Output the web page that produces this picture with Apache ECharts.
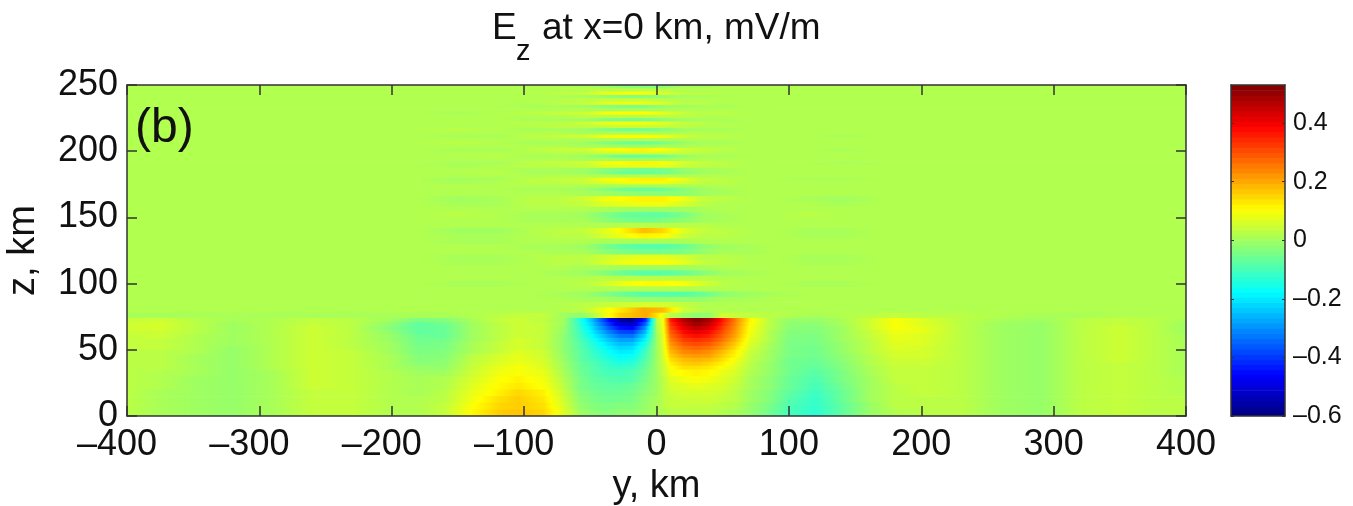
<!DOCTYPE html>
<html>
<head>
<meta charset="utf-8">
<title>Ez at x=0 km</title>
<script src="https://cdn.jsdelivr.net/npm/echarts@6/dist/echarts.min.js"></script>
<style>
html, body { margin: 0; padding: 0; background: #fff; }
#chart { width: 1353px; height: 506px; }
</style>
</head>
<body>
<div id="chart"></div>
<script>
// field values are in units of 0.01 mV/m
// above the ionosphere boundary: y nodes of each row, z edges of the rows
const upperY = [-400,-180,-150,-120,-95,-75,-55,-40,-25,-10,5,20,35,50,70,90,115,140,170,400];
const upperZ = [250,247.5,245,242.5,240,237.5,235,232.5,230,227.5,225,222.5,220,217.5,215,212.5,210,207.5,205,202.5,200,197.5,195,192.5,190,187.5,185,182.5,180,177.5,175,172.5,170,
  166,162,158,154,150,146,142,138,134,130,126,122,118,114,110,106,102,98,94,90,86,82,78];
const upperRows = [
  [2,2,2,2,2,2,2,0,-2,-3,-2,1,1,2,2,2,2,2,2,2],
  [2,2,2,2,2,2,2,3,3,3,3,2,2,2,2,2,2,2,2,2],
  [2,2,2,2,2,3,4,8,10,10,6,3,3,2,2,2,2,2,2,2],
  [2,2,2,2,2,2,1,-1,-3,-3,-1,1,1,2,2,2,2,2,2,2],
  [2,2,2,2,2,2,3,4,4,4,3,2,2,2,2,2,2,2,2,2],
  [2,2,2,2,2,3,4,7,9,9,6,3,3,2,2,2,2,2,2,2],
  [2,2,2,2,1,1,0,-2,-4,-4,-1,0,1,1,2,2,2,2,2,2],
  [2,2,2,2,2,2,2,1,1,1,1,2,2,2,2,2,2,2,2,2],
  [2,2,1,2,3,4,5,9,11,11,8,4,3,3,2,2,2,2,2,2],
  [2,2,2,2,2,2,3,3,3,3,3,3,2,2,2,2,2,2,2,2],
  [2,2,2,2,1,1,0,-3,-5,-5,-2,0,1,1,2,2,2,2,2,2],
  [2,2,2,2,3,3,5,8,10,10,7,4,3,2,2,2,2,2,2,2],
  [2,2,2,2,2,3,3,4,5,5,4,3,2,2,2,2,2,2,2,2],
  [2,2,3,2,1,1,0,-3,-5,-5,-3,0,1,1,2,2,2,2,2,2],
  [2,2,2,2,2,2,1,1,1,1,1,2,2,2,2,2,2,2,2,2],
  [2,2,1,1,3,4,5,9,11,11,9,5,3,3,2,2,2,1,2,2],
  [2,2,2,2,2,2,2,2,2,2,2,2,2,2,2,2,2,2,2,2],
  [2,2,3,2,1,1,0,-3,-5,-6,-4,-1,1,1,2,2,2,2,2,2],
  [2,2,2,2,2,2,1,1,0,0,1,1,2,2,2,2,2,2,2,2],
  [2,2,1,1,3,4,5,9,11,12,10,6,4,3,2,2,2,1,2,2],
  [2,2,2,2,2,3,3,5,6,6,6,4,3,2,2,2,2,2,2,2],
  [2,2,2,3,1,1,0,-3,-6,-6,-5,-1,1,1,2,2,2,2,2,2],
  [2,2,2,2,2,2,1,1,0,0,0,1,2,2,2,2,2,2,2,2],
  [2,2,1,1,3,4,5,9,11,12,11,6,4,3,2,2,2,1,2,2],
  [2,2,1,2,3,3,4,7,8,8,8,5,3,3,2,2,2,2,2,2],
  [2,2,2,2,1,1,0,-2,-4,-5,-4,-1,1,1,2,2,2,2,2,2],
  [2,2,2,3,1,1,0,-3,-6,-6,-5,-2,0,1,2,2,2,2,2,2],
  [2,2,2,2,2,2,2,2,2,2,2,2,2,2,2,2,2,2,2,2],
  [2,2,0,1,3,4,5,9,11,12,12,8,4,3,2,2,1,1,2,2],
  [2,2,1,2,3,3,4,7,9,9,9,6,3,3,2,2,2,2,2,2],
  [2,2,2,2,2,2,2,1,1,1,1,1,2,2,2,2,2,2,2,2],
  [2,2,2,2,1,1,0,-3,-6,-7,-6,-3,0,1,2,2,2,2,2,2],
  [2,2,2,2,2,2,1,0,-1,-2,-2,-2,0,1,2,2,2,2,2,2],
  [2,2,0,1,3,3,5,9,11,12,12,9,4,3,2,2,1,0,2,2],
  [2,2,1,1,3,3,4,7,8,9,9,6,3,2,2,2,2,1,2,2],
  [2,2,2,2,2,2,2,1,0,0,0,0,1,2,2,2,2,2,2,2],
  [2,2,3,2,1,1,0,-3,-6,-7,-7,-4,0,1,2,2,3,2,2,2],
  [2,2,2,2,1,1,1,-2,-4,-5,-4,-2,0,1,2,2,2,2,2,2],
  [2,2,2,2,2,2,2,2,3,3,3,3,3,2,2,2,2,2,2,2],
  [2,2,0,0,2,3,4,7,12,18,15,7,4,3,2,2,1,1,2,2],
  [2,2,1,1,2,3,3,6,9,12,11,5,3,3,2,2,1,1,2,2],
  [2,2,1,1,2,2,2,1,1,1,1,1,2,2,2,2,2,2,2,2],
  [2,2,2,2,1,1,0,-4,-7,-8,-8,-6,-2,0,1,2,2,2,2,2],
  [2,2,2,2,2,1,1,-2,-4,-5,-5,-4,-1,1,1,2,2,2,2,2],
  [2,2,1,1,2,3,3,5,7,8,8,6,3,3,2,2,1,1,2,2],
  [2,2,1,1,2,3,3,6,9,10,10,8,4,3,2,2,1,1,2,2],
  [2,2,2,2,2,2,1,1,0,0,0,0,1,2,2,2,2,2,2,2],
  [2,2,2,2,2,1,0,-3,-6,-8,-8,-6,-3,0,1,2,2,2,2,2],
  [2,2,2,2,2,2,2,3,3,3,3,3,3,2,2,2,2,2,2,2],
  [2,2,1,1,2,2,3,5,9,11,11,10,6,3,2,2,1,1,2,2],
  [2,2,2,2,2,2,2,2,2,2,2,2,2,2,2,2,2,2,2,2],
  [2,2,2,2,2,1,0,-3,-6,-8,-8,-8,-6,-2,0,1,2,2,2,2],
  [2,2,2,2,2,2,1,1,0,-1,-1,-1,-1,1,1,2,2,2,2,2],
  [2,2,2,2,2,2,3,4,5,6,6,4,2,2,2,2,2,2,2,2],
  [2,2,2,2,2,2,3,9,14,20,18,5,2,2,2,2,2,2,2,2]
];
// below the boundary
const lowerY = [-400,-375,-350,-320,-290,-260,-230,-200,-180,-160,-140,-120,-105,-85,-70,-58,-48,-38,-28,-18,-8,0,5,10,20,30,40,50,60,70,85,100,120,140,160,180,200,230,260,290,320,350,375,400];
const lowerZ = [78,74,71,68,65,62,59,56,53,50,47,44,41,38,35,30,25,20,15,10,5,0];
const lowerRows = [
  [1,1,1,1,1,1,1,1,1,1,2,3,4,4,0,-2,2,9,16,18,20,14,8,3,0,-2,-1,6,4,4,3,2,1,2,3,4,3,3,2,1,1,2,2,2],
  [4,5,3,1,2,4,3,0,-4,-3,1,4,5,3,0,-14,-26,-42,-56,-58,-40,3,10,35,47,53,48,36,24,12,3,-1,-1,1,5,10,7,3,1,0,3,4,3,1],
  [5,6,3,0,2,4,3,-2,-7,-5,0,3,5,4,0,-13,-24,-38,-50,-52,-34,2,10,32,44,50,45,34,23,11,3,-2,-2,1,5,10,7,3,0,-1,3,4,3,0],
  [5,6,3,0,2,5,3,-3,-7,-6,0,3,5,4,-1,-12,-22,-34,-44,-46,-28,1,9,30,41,46,42,32,22,10,3,-2,-3,0,5,10,8,3,0,-1,3,5,3,0],
  [5,5,3,0,2,5,3,-2,-7,-6,0,3,5,4,-1,-11,-20,-30,-38,-39,-24,1,9,28,38,42,38,30,21,10,2,-3,-3,0,4,9,8,3,0,-1,3,5,3,0],
  [4,5,2,0,2,5,3,-1,-6,-6,0,3,5,4,-2,-10,-18,-26,-33,-33,-20,0,8,26,35,38,35,28,20,9,2,-3,-4,0,4,8,7,3,0,-1,3,5,3,1],
  [4,4,2,0,2,5,3,-1,-5,-5,0,3,6,4,-2,-9,-16,-23,-28,-28,-17,0,8,24,32,34,32,26,18,8,2,-4,-4,0,3,8,7,3,0,-1,3,5,3,1],
  [4,4,2,0,2,5,3,0,-5,-4,1,4,6,4,-2,-8,-14,-20,-25,-24,-14,0,7,22,29,31,29,23,16,7,1,-4,-4,-1,3,7,7,3,0,-1,3,5,3,1],
  [4,4,2,-1,2,5,3,0,-4,-4,1,4,6,4,-2,-8,-13,-18,-22,-21,-12,0,7,20,26,28,26,21,14,6,1,-4,-5,-1,3,7,6,3,0,-1,3,5,3,1],
  [3,3,2,-1,2,5,4,0,-4,-3,1,4,7,5,-2,-7,-12,-16,-20,-19,-10,0,6,18,24,25,23,18,12,5,0,-4,-5,-1,3,6,6,3,0,-1,3,5,3,1],
  [3,3,1,-1,2,5,4,1,-3,-3,3,6,8,5,-1,-7,-11,-15,-18,-17,-9,0,6,16,21,22,21,16,11,4,0,-4,-5,-2,2,6,6,3,0,-1,3,5,3,1],
  [3,3,1,-1,2,5,4,1,-3,-2,3,6,8,6,-1,-7,-10,-13,-16,-15,-8,0,5,14,18,19,18,14,9,4,0,-5,-6,-2,2,5,5,3,0,-1,3,5,3,1],
  [3,3,1,-1,2,5,4,1,-2,-2,4,7,9,6,0,-6,-9,-12,-14,-13,-7,0,5,12,16,17,15,12,8,3,-1,-5,-6,-3,2,5,5,3,0,-1,3,4,3,1],
  [3,3,1,-1,2,5,4,1,-1,-1,4,8,10,7,0,-6,-8,-11,-12,-11,-6,0,4,10,14,14,13,10,7,3,-1,-5,-7,-3,1,4,4,3,0,-1,3,4,3,1],
  [3,2,1,-1,1,5,4,2,0,0,5,9,10,8,1,-5,-8,-10,-10,-9,-5,0,4,9,11,12,11,8,6,2,-1,-5,-8,-4,1,4,4,3,0,-1,3,4,3,1],
  [3,2,0,-1,1,5,4,2,1,2,6,10,12,9,2,-4,-7,-8,-9,-8,-4,0,3,7,9,10,9,7,5,1,-2,-6,-9,-4,0,4,4,3,0,-1,3,4,3,2],
  [3,2,0,-1,1,5,4,2,1,2,7,11,13,10,3,-4,-6,-7,-7,-6,-3,0,3,6,7,8,7,6,4,1,-2,-6,-10,-5,0,3,4,3,0,-1,3,4,3,2],
  [3,1,0,-1,1,4,4,2,1,3,8,12,15,12,4,-3,-5,-6,-6,-5,-2,0,3,5,6,6,6,5,3,0,-3,-7,-11,-6,0,3,4,3,0,-1,3,4,3,2],
  [3,1,0,-1,1,4,4,2,2,3,9,14,16,13,5,-2,-4,-5,-5,-4,-1,1,3,4,5,5,5,4,3,0,-3,-8,-12,-6,0,3,3,3,0,-1,3,4,3,3],
  [3,1,0,-1,1,4,4,2,2,4,10,15,16,14,6,-1,-3,-4,-3,-3,-1,1,3,4,4,4,4,3,2,-1,-4,-9,-12,-7,-1,3,3,3,0,-1,3,4,3,3],
  [3,1,0,-1,1,4,4,2,2,4,11,16,17,15,7,0,-2,-3,-2,-2,0,1,2,3,3,3,3,2,1,-1,-5,-10,-13,-7,-1,2,3,3,0,-1,3,4,3,3]
];
const yTicks = { min: -400, max: 400, interval: 100 };
const zTicks = { min: 0, max: 250, interval: 50 };
const barRange = [-0.6, 0.53];
const barTickStep = 0.2;
const barLevels = 64;

const FONT = '"Liberation Sans", Arial, sans-serif';
const INK = '#111';
const LINE = '#333';

// MATLAB jet
function jet(v) {
  const f = Math.min(1, Math.max(0, (v - barRange[0]) / (barRange[1] - barRange[0])));
  const c = x => Math.round(255 * Math.min(1, Math.max(0, x)));
  const r = c(Math.min(4 * f - 1.5, -4 * f + 4.5));
  const g = c(Math.min(4 * f - 0.5, -4 * f + 3.5));
  const b = c(Math.min(4 * f + 0.5, -4 * f + 2.5));
  return 'rgb(' + r + ',' + g + ',' + b + ')';
}

// one strip per neighbouring node pair: [y0, y1, zTop, zBottom, v0, v1]
function strips(ys, zs, rows) {
  const out = [];
  rows.forEach((row, r) => {
    for (let c = 0; c < ys.length - 1; c++) {
      out.push([ys[c], ys[c + 1], zs[r], zs[r + 1], row[c] / 100, row[c + 1] / 100]);
    }
  });
  return out;
}
const fieldData = strips(upperY, upperZ, upperRows).concat(strips(lowerY, lowerZ, lowerRows));

function renderStrip(params, api) {
  const a = api.coord([api.value(0), api.value(2)]);
  const b = api.coord([api.value(1), api.value(3)]);
  const v0 = api.value(4), v1 = api.value(5);
  const stops = [];
  for (let i = 0; i <= 6; i++) {
    stops.push({ offset: i / 6, color: jet(v0 + (v1 - v0) * i / 6) });
  }
  return {
    type: 'rect',
    shape: { x: a[0], y: a[1], width: b[0] - a[0] + 0.7, height: b[1] - a[1] + 0.7 },
    style: { fill: new echarts.graphic.LinearGradient(0, 0, 1, 0, stops) }
  };
}

// colour bar, one band for each level of the map
const barData = [];
for (let i = 0; i < barLevels; i++) {
  const step = (barRange[1] - barRange[0]) / barLevels;
  barData.push([barRange[0] + i * step, barRange[0] + (i + 1) * step]);
}
function renderBand(params, api) {
  const lo = api.value(0), hi = api.value(1);
  const a = api.coord([0, hi]);
  const b = api.coord([1, lo]);
  return {
    type: 'rect',
    shape: { x: a[0], y: a[1], width: b[0] - a[0], height: b[1] - a[1] + 0.7 },
    style: { fill: jet((lo + hi) / 2) }
  };
}

const titleFont = size => ({ fontFamily: FONT, fontSize: size, fontWeight: 'normal', color: INK });
const boxLine = { show: true, onZero: false, lineStyle: { color: LINE, width: 1.5 } };
const bigTick = { show: true, inside: true, length: 10, lineStyle: { color: LINE, width: 1.5 } };
const smallTick = { show: true, inside: true, length: 3, lineStyle: { color: LINE, width: 1 } };
const minusDash = v => String(+(+v).toFixed(1)).replace('-', '\u2013');
// the minus sign hangs off to the left of the centred digits
const hangMinus = v => (v < 0 ? '{neg|' + minusDash(v) + '}' : '{pos|' + v + '}');

const option = {
  animation: false,
  backgroundColor: '#fff',
  title: [
    { text: 'E', left: 487, top: 5, textStyle: titleFont(37) },
    { text: 'z', left: 511, top: 32, textStyle: titleFont(29) },
    { text: 'at x=0 km, mV/m', left: 537, top: 5, textStyle: titleFont(37) },
    { text: '(b)', left: 130, top: 100, z: 10, textStyle: titleFont(48) }
  ],
  grid: [
    { left: 127, top: 85, width: 1059, height: 331, outerBoundsMode: 'none' },
    { left: 1231, top: 85, width: 54, height: 331, outerBoundsMode: 'none' }
  ],
  xAxis: [
    {
      type: 'value', gridIndex: 0, position: 'bottom', z: 5, ...yTicks,
      name: 'y, km', nameLocation: 'middle', nameGap: 52,
      nameTextStyle: { fontFamily: FONT, fontSize: 38, color: INK },
      axisLine: boxLine, axisTick: bigTick, splitLine: { show: false },
      axisLabel: {
        margin: 11, formatter: hangMinus, hideOverlap: false,
        rich: {
          neg: { fontFamily: FONT, fontSize: 36, color: INK, padding: [0, 20, 0, 0] },
          pos: { fontFamily: FONT, fontSize: 36, color: INK }
        }
      }
    },
    {
      type: 'value', gridIndex: 0, position: 'top', z: 5, ...yTicks,
      axisLine: boxLine, axisTick: bigTick, splitLine: { show: false }, axisLabel: { show: false }
    },
    { type: 'value', gridIndex: 1, min: 0, max: 1, position: 'bottom', z: 5, axisLine: boxLine, axisTick: { show: false }, splitLine: { show: false }, axisLabel: { show: false } },
    { type: 'value', gridIndex: 1, min: 0, max: 1, position: 'top', z: 5, axisLine: boxLine, axisTick: { show: false }, splitLine: { show: false }, axisLabel: { show: false } }
  ],
  yAxis: [
    {
      type: 'value', gridIndex: 0, position: 'left', z: 5, ...zTicks,
      name: 'z, km', nameLocation: 'middle', nameGap: 84, nameRotate: 90,
      nameTextStyle: { fontFamily: FONT, fontSize: 38, color: INK },
      axisLine: boxLine, axisTick: bigTick, splitLine: { show: false },
      axisLabel: { fontFamily: FONT, fontSize: 36, color: INK, margin: 9, hideOverlap: false }
    },
    {
      type: 'value', gridIndex: 0, position: 'right', z: 5, ...zTicks,
      axisLine: boxLine, axisTick: bigTick, splitLine: { show: false }, axisLabel: { show: false }
    },
    {
      type: 'value', gridIndex: 1, position: 'right', z: 5,
      min: barRange[0], max: barRange[1], interval: barTickStep,
      axisLine: boxLine, axisTick: smallTick, splitLine: { show: false },
      axisLabel: { fontFamily: FONT, fontSize: 25, color: INK, margin: 8, formatter: minusDash,
        showMaxLabel: false, showMinLabel: true, hideOverlap: false }
    },
    {
      type: 'value', gridIndex: 1, position: 'left', z: 5,
      min: barRange[0], max: barRange[1], interval: barTickStep,
      axisLine: boxLine, axisTick: smallTick, splitLine: { show: false }, axisLabel: { show: false }
    }
  ],
  series: [
    {
      type: 'custom', name: 'Ez', xAxisIndex: 0, yAxisIndex: 0, clip: true, silent: true,
      progressive: 0, renderItem: renderStrip, data: fieldData,
      encode: { x: [0, 1], y: [2, 3] }
    },
    {
      type: 'custom', name: 'colour bar', xAxisIndex: 2, yAxisIndex: 2, clip: true, silent: true,
      progressive: 0, renderItem: renderBand, data: barData,
      encode: { y: [0, 1] }
    }
  ]
};

const chart = echarts.init(document.getElementById('chart'));
chart.setOption(option);
</script>
</body>
</html>
